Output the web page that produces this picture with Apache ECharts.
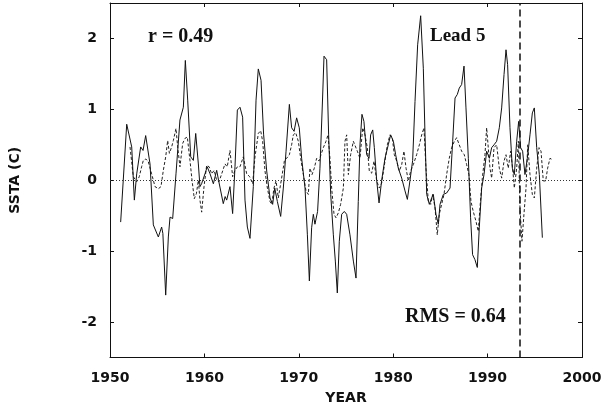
<!DOCTYPE html>
<html>
<head>
<meta charset="utf-8">
<script src="https://cdn.jsdelivr.net/npm/echarts@6/dist/echarts.min.js"></script>
<style>
html,body{margin:0;padding:0;background:#fff;}
#chart{width:616px;height:408px;}
</style>
</head>
<body>
<div id="chart"></div>
<script>
// Observed SSTA (solid)
var obsYear = [1951.13,1951.77,1952.30,1952.58,1952.83,1953.25,1953.50,1953.78,1954.24,1954.59,1955.12,1955.47,1955.60,1955.90,1956.18,1956.36,1956.64,1956.99,1957.41,1957.77,1957.98,1958.23,1958.55,1958.83,1959.08,1959.36,1959.53,1959.70,1960.06,1960.30,1960.60,1960.95,1961.30,1961.50,1962.00,1962.20,1962.36,1962.71,1962.99,1963.24,1963.49,1963.77,1964.05,1964.30,1964.55,1964.83,1965.18,1965.47,1965.71,1966.00,1966.27,1966.60,1966.95,1967.23,1967.45,1967.73,1968.08,1968.36,1968.65,1969.00,1969.24,1969.50,1969.77,1970.05,1970.30,1970.66,1970.91,1971.12,1971.36,1971.54,1971.71,1971.99,1972.24,1972.52,1972.67,1972.95,1973.16,1973.38,1973.66,1973.87,1974.08,1974.29,1974.54,1974.82,1975.07,1975.42,1975.78,1976.06,1976.30,1976.48,1976.69,1976.90,1977.19,1977.44,1977.61,1977.83,1978.00,1978.25,1978.50,1978.78,1979.13,1979.48,1979.73,1980.02,1980.26,1980.54,1980.90,1981.25,1981.50,1981.78,1982.06,1982.31,1982.59,1982.91,1983.19,1983.37,1983.55,1983.83,1984.07,1984.25,1984.53,1984.78,1984.96,1985.31,1985.66,1986.02,1986.30,1986.55,1986.79,1987.00,1987.25,1987.50,1987.71,1987.96,1988.20,1988.41,1988.66,1988.91,1989.12,1989.37,1989.62,1989.90,1990.19,1990.43,1990.68,1990.96,1991.24,1991.49,1991.74,1991.95,1992.12,1992.37,1992.62,1992.83,1993.08,1993.29,1993.50,1993.71,1993.96,1994.21,1994.49,1994.74,1994.95,1995.20,1995.48,1995.80];
var obsSsta = [-0.59,0.79,0.47,-0.28,0.09,0.47,0.42,0.63,0.23,-0.63,-0.80,-0.66,-0.75,-1.62,-0.80,-0.52,-0.54,0.09,0.85,1.03,1.69,1.13,0.33,0.28,0.66,0.23,-0.09,-0.05,0.09,0.19,0.09,-0.05,0.14,0.00,-0.33,-0.23,-0.28,-0.09,-0.47,0.19,0.99,1.03,0.89,-0.28,-0.66,-0.82,-0.09,1.13,1.57,1.41,0.65,0.13,-0.25,-0.34,-0.11,-0.30,-0.51,-0.11,0.41,1.07,0.74,0.69,0.88,0.74,0.31,-0.11,-0.77,-1.42,-0.67,-0.48,-0.62,-0.44,0.17,1.16,1.75,1.70,0.64,-0.20,-0.77,-1.14,-1.59,-0.86,-0.48,-0.44,-0.48,-0.77,-1.14,-1.38,-0.30,0.50,0.93,0.83,0.36,0.31,0.64,0.71,0.46,0.00,-0.32,0.00,0.31,0.50,0.64,0.55,0.36,0.17,0.03,-0.15,-0.27,0.00,0.28,1.11,1.91,2.32,1.58,0.64,-0.20,-0.34,-0.25,-0.20,-0.48,-0.62,-0.34,-0.20,-0.18,-0.11,0.55,1.16,1.21,1.30,1.35,1.61,1.02,0.31,-0.53,-1.05,-1.12,-1.23,-0.67,-0.11,0.08,0.41,0.31,0.46,0.50,0.55,0.74,1.02,1.49,1.84,1.63,0.74,0.17,0.08,0.55,0.83,0.46,0.41,0.08,0.31,0.64,0.95,1.02,0.46,0.08,-0.81];

// Lead-5 forecast SSTA (dashed)
var fcstYear = [1952.12,1952.47,1952.83,1953.10,1953.35,1953.53,1953.80,1954.06,1954.41,1954.77,1955.12,1955.40,1955.65,1955.90,1956.11,1956.29,1956.53,1956.71,1956.99,1957.17,1957.41,1957.70,1957.94,1958.19,1958.47,1958.69,1958.93,1959.15,1959.36,1959.53,1959.71,1959.96,1960.24,1960.50,1960.77,1961.03,1961.30,1961.55,1961.83,1962.18,1962.42,1962.71,1962.99,1963.24,1963.50,1963.77,1964.12,1964.48,1964.80,1965.11,1965.36,1965.71,1965.96,1966.17,1966.42,1966.67,1966.95,1967.13,1967.37,1967.59,1967.83,1968.18,1968.47,1968.71,1969.00,1969.24,1969.42,1969.67,1969.95,1970.20,1970.48,1970.76,1971.01,1971.18,1971.40,1971.64,1971.89,1972.14,1972.35,1972.60,1972.88,1973.09,1973.30,1973.48,1973.73,1973.94,1974.19,1974.43,1974.72,1974.89,1975.07,1975.25,1975.49,1975.78,1975.99,1976.20,1976.48,1976.77,1977.01,1977.26,1977.47,1977.72,1977.97,1978.25,1978.53,1978.78,1979.13,1979.38,1979.66,1979.91,1980.12,1980.37,1980.65,1980.90,1981.14,1981.36,1981.60,1981.85,1982.13,1982.48,1982.77,1983.02,1983.26,1983.47,1983.72,1983.97,1984.18,1984.43,1984.67,1984.88,1985.13,1985.38,1985.66,1985.94,1986.19,1986.48,1986.72,1987.00,1987.25,1987.53,1987.78,1988.02,1988.24,1988.48,1988.77,1989.01,1989.19,1989.44,1989.72,1989.90,1990.07,1990.25,1990.43,1990.68,1990.96,1991.24,1991.49,1991.74,1991.95,1992.19,1992.44,1992.65,1992.83,1993.08,1993.26,1993.43,1993.64,1993.85,1994.07,1994.25,1994.49,1994.74,1994.95,1995.20,1995.45,1995.66,1995.90,1996.15,1996.36,1996.61,1996.86];
var fcstSsta = [0.47,0.05,-0.02,0.05,0.19,0.28,0.30,0.26,0.09,-0.09,-0.12,-0.09,0.14,0.33,0.56,0.38,0.47,0.56,0.73,0.47,0.19,0.52,0.59,0.61,0.28,0.00,-0.26,-0.19,0.00,-0.28,-0.45,-0.09,0.21,0.19,0.09,0.14,0.00,-0.02,0.09,0.23,0.19,0.42,0.05,0.14,0.19,0.19,0.33,0.09,0.05,-0.05,0.33,0.66,0.70,0.55,0.13,-0.11,-0.30,-0.34,-0.11,-0.01,-0.25,0.03,0.27,0.31,0.36,0.50,0.64,0.67,0.55,0.31,0.08,-0.15,-0.20,0.17,0.08,0.17,0.31,0.27,0.36,0.46,0.55,0.64,0.31,-0.11,-0.48,-0.53,-0.46,-0.34,-0.11,0.55,0.64,0.08,0.36,0.55,0.57,0.41,0.31,0.74,0.64,0.46,0.13,0.10,0.27,-0.01,-0.11,-0.04,0.27,0.50,0.64,0.59,0.36,0.27,0.13,0.22,0.41,0.17,-0.01,0.13,0.22,0.36,0.50,0.64,0.74,0.17,-0.30,-0.34,-0.20,-0.39,-0.77,-0.48,-0.34,-0.20,0.08,0.31,0.46,0.55,0.60,0.50,0.41,0.36,0.22,0.08,-0.30,-0.44,-0.58,-0.72,-0.39,0.03,0.36,0.74,0.46,0.17,0.03,0.46,0.50,0.17,0.03,0.27,0.36,0.17,0.41,0.17,-0.11,0.17,0.55,-0.39,-0.86,-0.48,-0.11,0.50,0.08,-0.20,-0.25,0.17,0.46,0.41,-0.01,-0.01,0.17,0.31,0.29];

var yTicks = [-2, -1, 0, 1, 2];
var forecastStart = 1993.4;
var labelR = 'r = 0.49';
var labelLead = 'Lead 5';
var labelRms = 'RMS = 0.64';

function zip(a, b) { return a.map(function (v, i) { return [v, b[i]]; }); }

var ink = '#111';
var tickFont = { fontFamily: 'DejaVu Sans', fontWeight: 'bold', fontSize: 14, color: ink };
var frameLine = { show: true, onZero: false, lineStyle: { color: ink, width: 1 } };

var chart = echarts.init(document.getElementById('chart'), null, { renderer: 'canvas' });
chart.setOption({
  animation: false,
  backgroundColor: '#fff',
  grid: { left: 110, right: 34, top: 3, bottom: 50.5, show: false, containLabel: false, outerBoundsMode: 'none' },
  xAxis: [{
    type: 'value', min: 1950, max: 2000, interval: 10, position: 'bottom',
    name: 'YEAR', nameLocation: 'middle', nameGap: 34,
    nameTextStyle: { fontFamily: 'DejaVu Sans', fontWeight: 'bold', fontSize: 14, color: ink },
    axisLine: frameLine,
    axisTick: { show: true, inside: true, length: 4, lineStyle: { color: ink } },
    axisLabel: Object.assign({ margin: 14, formatter: function (v) { return String(v); } }, tickFont),
    splitLine: { show: false }
  }, {
    type: 'value', min: 1950, max: 2000, interval: 10, position: 'top',
    axisLine: frameLine,
    axisTick: { show: true, inside: true, length: 4, lineStyle: { color: ink } },
    axisLabel: { show: false }, splitLine: { show: false }
  }],
  yAxis: [{
    type: 'value', min: -2.5, max: 2.5, interval: 0.5, position: 'left',
    name: 'SSTA (C)', nameLocation: 'middle', nameGap: 88, nameRotate: 90,
    nameTextStyle: { fontFamily: 'DejaVu Sans', fontWeight: 'bold', fontSize: 14, color: ink },
    axisLine: frameLine,
    axisTick: { show: true, inside: true, length: 4, customValues: yTicks, lineStyle: { color: ink } },
    axisLabel: Object.assign({ margin: 13, customValues: yTicks, formatter: function (v) { return String(v); } }, tickFont),
    splitLine: { show: false }
  }, {
    type: 'value', min: -2.5, max: 2.5, interval: 0.5, position: 'right',
    axisLine: frameLine,
    axisTick: { show: true, inside: true, length: 4, customValues: yTicks, lineStyle: { color: ink } },
    axisLabel: { show: false }, splitLine: { show: false }
  }],
  series: [{
    name: 'Observed', type: 'line', data: zip(obsYear, obsSsta),
    showSymbol: false, symbol: 'none', smooth: false,
    lineStyle: { color: ink, width: 1 },
    markLine: {
      silent: true, symbol: 'none', label: { show: false },
      data: [
        { yAxis: 0, lineStyle: { color: '#333', width: 1, type: [1, 2] } },
        { xAxis: forecastStart, lineStyle: { color: ink, width: 1.5, type: [7, 4] } }
      ]
    },
    z: 3
  }, {
    name: 'Forecast', type: 'line', data: zip(fcstYear, fcstSsta),
    showSymbol: false, symbol: 'none', smooth: false,
    lineStyle: { color: '#222', width: 1, type: [3, 2] },
    z: 2
  }],
  graphic: [
    { type: 'text', left: 148, top: 27, style: { text: labelR, font: 'bold 20px "Liberation Serif"', fill: ink } },
    { type: 'text', left: 430, top: 27, style: { text: labelLead, font: 'bold 19px "Liberation Serif"', fill: ink } },
    { type: 'text', left: 405, top: 307, style: { text: labelRms, font: 'bold 20px "Liberation Serif"', fill: ink } }
  ]
});
</script>
</body>
</html>
